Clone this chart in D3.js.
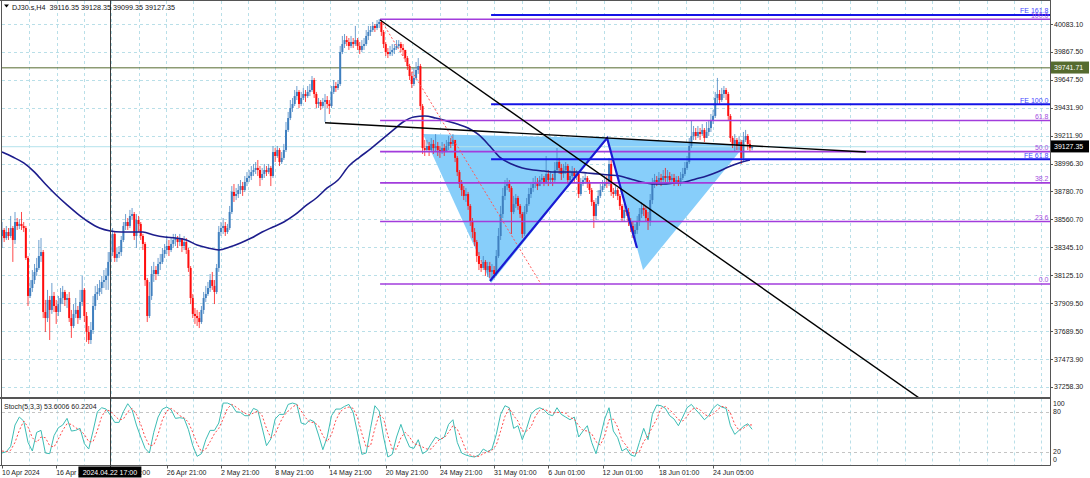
<!DOCTYPE html>
<html><head><meta charset="utf-8">
<script src="https://cdn.jsdelivr.net/npm/d3@7/dist/d3.min.js"></script>
<style>
html,body{margin:0;padding:0;background:#fff;}
svg{display:block;}
text{font-family:"Liberation Sans",Arial,sans-serif;}
</style></head>
<body>
<svg id="chart" width="1090" height="478"></svg>
<script>
// ---------------- DATA ----------------
const symbolTitle = "DJ30.s,H4";
const lastOHLC = [39116.35, 39128.35, 39099.35, 39127.35];
const firstOpen = 38432;
// H4 bars, oldest first (open of each bar = previous close)
const closes = [
38479,38416,38463,38432,38494,38401,38541,38510,38526,38510,
38494,38261,37965,38027,38089,38152,38183,38276,38307,37840,
37793,37934,37856,37965,37887,37840,37902,37949,37996,37934,
37949,37793,37731,37825,37856,37793,37918,38012,37809,37684,
37622,37700,37887,37980,37996,38027,38074,38089,38121,38230,
38307,38448,38261,38292,38307,38401,38510,38541,38510,38588,
38603,38432,38557,38526,38432,38370,38089,37809,37965,38136,
38167,38136,38214,38230,38292,38323,38354,38323,38370,38401,
38416,38385,38416,38354,38385,38323,38183,37949,37825,37809,
37793,37762,37856,37949,37980,38027,38089,38043,37996,38183,
38463,38494,38510,38463,38494,38619,38775,38744,38759,38790,
38821,38790,38853,38884,38899,38930,38946,38962,38946,38884,
38915,38946,38930,38962,38899,39086,39055,39102,39008,39040,
39102,39258,39351,39429,39460,39522,39554,39460,39507,39538,
39522,39554,39569,39647,39538,39460,39476,39444,39476,39491,
39460,39444,39554,39600,39585,39616,39865,39927,39958,39943,
39912,39943,39927,39958,39912,39881,39912,39927,39990,40021,
40036,40068,40052,40083,40099,40021,39927,39865,39849,39865,
39881,39896,39912,39927,39896,39881,39818,39756,39678,39616,
39663,39725,39756,39444,39117,39102,39133,39102,39149,39117,
39133,39102,39086,39117,39086,39133,39164,39149,39180,39040,
38930,38837,38790,38744,38759,38666,38541,38463,38385,38276,
38214,38183,38230,38167,38198,38152,38167,38136,38276,38432,
38603,38744,38821,38837,38806,38619,38681,38728,38666,38603,
38448,38619,38681,38759,38806,38837,38853,38821,38868,38884,
38853,38915,38868,38884,38868,38946,39008,38962,38915,38946,
38977,38868,38899,38930,38899,38915,38759,38837,38868,38884,
38853,38790,38697,38588,38681,38744,38790,38821,38853,38837,
38993,38775,38759,38790,38744,38666,38572,38635,38619,38541,
38510,38448,38479,38541,38603,38650,38635,38572,38541,38712,
38837,38868,38853,38884,38868,38899,38884,38899,38868,38884,
38853,38868,38837,38884,38915,38962,39008,39133,39211,39242,
39211,39242,39226,39258,39195,39242,39273,39335,39367,39507,
39538,39491,39538,39569,39538,39367,39195,39149,39180,39133,
39164,39040,39180,39211,39149,39116.35,39127.35];
const highs = [
38541,38494,38510,38494,38588,38510,38619,38572,38564,38619,
38541,38510,38276,38089,38167,38214,38261,38401,38416,38323,
37934,38012,37965,38066,37996,37934,37965,38027,38043,38012,
37980,37996,37856,37902,37949,37887,38012,38121,38027,37840,
37731,37762,37965,38043,38058,38089,38121,38167,38183,38307,
38401,38494,38463,38339,38354,38432,38541,38603,38572,38635,
38650,38619,38603,38588,38541,38448,38385,38105,38074,38198,
38230,38198,38261,38292,38339,38370,38432,38401,38416,38448,
38448,38432,38448,38416,38432,38416,38339,38198,37980,37871,
37856,37840,37887,37996,38043,38074,38136,38152,38089,38214,
38510,38541,38572,38541,38526,38666,38821,38837,38806,38837,
38868,38853,38899,38930,38946,38977,38993,39008,39024,38977,
38962,38993,38977,38993,38977,39133,39117,39133,39117,39086,
39149,39320,39398,39491,39507,39569,39600,39569,39554,39585,
39569,39600,39616,39678,39663,39554,39507,39491,39507,39538,
39522,39491,39600,39647,39631,39647,39912,39990,40005,39990,
39974,39990,39974,40068,39974,39943,39958,39974,40036,40068,
40068,40099,40083,40114,40122,40114,40036,39943,39896,39912,
39927,39927,39958,39958,39943,39927,39881,39834,39772,39709,
39740,39787,39818,39772,39460,39180,39180,39164,39195,39180,
39226,39164,39133,39164,39149,39180,39211,39195,39226,39180,
39055,38946,38868,38821,38806,38775,38681,38572,38494,38401,
38307,38245,38276,38245,38230,38230,38214,38198,38323,38494,
38666,38806,38868,38884,38868,38821,38744,38759,38744,38681,
38619,38666,38728,38806,38853,38884,38899,38884,38899,38915,
38899,39055,38946,38930,38915,39008,39117,39040,38993,38993,
39008,38993,38946,38977,38962,38946,38930,38884,38899,38915,
38899,38868,38806,38712,38728,38790,38837,38868,38899,38899,
39040,39024,38806,38821,38806,38759,38681,38681,38666,38650,
38572,38541,38526,38588,38650,38697,38681,38666,38619,38759,
38884,38915,38899,38930,38915,38946,38962,38946,38930,38915,
38915,38899,38899,38930,38962,39008,39055,39195,39335,39289,
39273,39289,39273,39304,39273,39320,39335,39382,39413,39554,
39663,39569,39585,39600,39585,39554,39382,39211,39226,39195,
39211,39180,39242,39258,39226,39180,39128.35];
const lows = [
38339,38385,38401,38401,38416,38230,38370,38479,38486,38479,
38463,38245,37887,37949,37996,38058,38121,38167,38230,37793,
37684,37762,37622,37825,37840,37747,37809,37840,37902,37887,
37871,37762,37638,37715,37793,37747,37778,37887,37762,37607,
37591,37591,37669,37856,37934,37965,37980,38027,38012,38012,
38183,38276,38230,38230,38261,38276,38385,38479,38479,38494,
38557,38401,38339,38463,38401,38323,38043,37762,37793,37934,
38074,38089,38121,38167,38214,38261,38292,38276,38307,38339,
38354,38339,38354,38307,38323,38292,38152,37902,37793,37747,
37731,37715,37747,37825,37918,37965,37996,38012,37902,37980,
38152,38432,38448,38432,38448,38479,38603,38697,38712,38728,
38759,38744,38775,38821,38853,38868,38899,38915,38899,38821,
38868,38884,38899,38915,38821,38884,39008,39040,38977,38993,
39024,39086,39242,39335,39398,39444,39491,39429,39444,39491,
39476,39507,39522,39554,39507,39429,39429,39413,39429,39320,
39429,39382,39429,39538,39554,39569,39600,39849,39896,39912,
39881,39896,39896,39912,39881,39849,39865,39881,39912,39958,
39990,40021,40021,40036,40052,39990,39896,39834,39818,39834,
39834,39849,39881,39896,39865,39834,39787,39725,39647,39585,
39600,39647,39694,39413,39071,39055,39086,39055,39086,39071,
39086,39055,39040,39071,39055,39086,39102,39117,39133,39008,
38899,38806,38744,38712,38697,38635,38510,38416,38354,38230,
38167,38152,38167,38121,38113,38105,38097,38105,38121,38261,
38401,38572,38712,38790,38775,38448,38603,38650,38635,38572,
38416,38432,38603,38666,38728,38775,38806,38790,38821,38837,
38821,38837,38821,38837,38821,38853,38930,38915,38868,38884,
38915,38837,38853,38884,38853,38868,38728,38744,38821,38837,
38806,38759,38666,38494,38557,38666,38728,38775,38806,38806,
38821,38744,38728,38744,38712,38635,38541,38541,38588,38510,
38463,38416,38401,38448,38510,38572,38588,38541,38479,38510,
38681,38806,38821,38837,38821,38853,38853,38853,38837,38853,
38821,38837,38821,38821,38868,38899,38946,38993,39117,39180,
39180,39195,39180,39211,39164,39195,39211,39242,39304,39351,
39460,39460,39476,39507,39491,39335,39164,39117,39086,39102,
39102,38993,39008,39164,39102,39086,39099.35];
// moving average, read every 5th bar
const maEvery = 5;
const maValues = [
39086,39047,39001,38930,38837,38751,38674,38603,38541,38494,
38471,38463,38463,38463,38440,38424,38416,38401,38362,38339,
38323,38346,38378,38416,38463,38502,38541,38596,38666,38728,
38806,38868,38977,39047,39110,39180,39250,39320,39359,39367,
39351,39328,39304,39273,39219,39133,39040,38993,38962,38946,
38938,38930,38930,38930,38923,38915,38907,38899,38876,38853,
38837,38837,38845,38853,38876,38899,38930,38969,39001,39024];
// Stochastic(5,3,3), read every 2nd bar
const stochEvery = 2;
const stochK = [
18,20,28,60,72,66,34,21,49,52, 18,17,44,56,60,70,51,52,55,32,
24,51,80,86,84,75,64,64,80,92, 83,60,42,25,18,49,72,84,87,83,
70,71,70,53,29,13,17,38,52,52, 63,93,93,90,80,79,74,74,85,82,
56,29,39,69,76,76,91,93,91,63, 61,68,65,45,23,42,74,84,84,88,
91,79,48,16,18,55,89,81,42,12, 16,42,61,42,27,25,38,17,21,32,
42,38,42,61,68,34,18,15,13,12, 15,24,20,24,46,76,89,86,55,59,
38,55,76,83,86,83,76,74,86,76, 72,68,72,42,51,59,34,17,42,69,
86,51,41,21,25,15,13,34,55,38, 76,90,89,85,74,69,59,72,86,91,
83,76,68,74,85,91,87,85,59,46, 52,58,62,53.6];
const stochD = [
21,20,22,34,52,66,57,41,34,42, 41,29,27,39,52,62,61,56,52,46,
35,35,52,73,83,81,74,68,69,80, 85,76,61,42,29,30,46,68,81,85,
80,74,71,64,49,32,20,24,35,47, 55,69,85,91,87,82,78,75,78,81,
74,55,41,46,62,74,81,87,91,81, 71,64,64,59,44,35,46,67,80,85,
87,85,71,47,27,29,55,76,70,44, 24,24,41,49,42,32,30,27,24,24,
32,39,41,49,59,54,39,22,15,13, 13,17,20,22,30,51,73,85,74,66,
51,51,57,73,82,84,81,78,79,79, 78,71,69,59,52,51,47,35,30,44,
68,69,57,37,29,20,17,20,35,44, 57,69,85,88,83,76,68,66,73,83,
86,83,76,73,76,83,88,87,78,61, 52,55,60,60.2];
const stochTitle = "Stoch(5,3,3) 53.6006 60.2204";

// axis ticks
const priceTicks = [40083.10,39867.50,39647.50,39431.90,39211.90,38996.30,38780.70,38560.70,38345.10,38125.10,37909.50,37689.50,37473.90,37258.30];
const stochTicks = [100,80,20,0];
const timeTickBars = [0,25,50,76,101,126,151,177,202,227,252,277,303,328];
const timeTickLabels = ["10 Apr 2024","16 Apr 21:00","22 Apr 21:00","26 Apr 21:00","2 May 21:00","8 May 21:00","14 May 21:00","20 May 21:00","24 May 21:00","31 May 01:00","6 Jun 01:00","12 Jun 01:00","18 Jun 01:00","24 Jun 05:00"];

// drawing objects (anchors as [bar, price])
const fibLevelNames = ["0.0","23.6","38.2","50.0","61.8","100.0"];
const fibLevelPrices = [38058,38545,38846,39089,39332,40120];
const fibStartBar = 174.4;
const feLevelNames = ["FE 61.8","FE 100.0","FE 161.8"];
const feLevelPrices = [39029,39458,40153];
const feStartBar = 225.6;
const feWave = [[225.1,38082],[279.1,39195],[292.9,38339]];
const triangleA = [[194.2,39226],[279.1,39195],[225.6,38066]];
const triangleB = [[279.1,39195],[342.7,39141],[295.7,38167]];
const trendDown = [[174.4,40114],[344.1,38105]];
const neckline = [[149,39314],[398.5,39086]];
const fibDiagonal = [[174.8,40114],[248.6,38058]];
const hLinePrice = 39741.71;
const crossBar = 50, crossLabel = "2024.04.22 17:00";

// ---------------- CHART ----------------
const W = 1090, H = 478;
const R = 1050;               // right edge of plot area
const mainBot = 397.5, stTop = 398.5, stBot = 465.5;

const x = d3.scaleLinear().domain([0, 346]).range([2, 752.1]);
const y = d3.scaleLinear().domain([37258.3, 40083.1]).range([386.7, 24]);
const ys = d3.scaleLinear().domain([0, 100]).range([465, 398.4]);

const svg = d3.select("#chart");
svg.append("rect").attr("width", W).attr("height", H).attr("fill", "#fff");
const defs = svg.append("defs");
defs.append("clipPath").attr("id", "mainClip").append("rect")
  .attr("x", 1.5).attr("y", 1).attr("width", R - 1.5).attr("height", mainBot - 1);
defs.append("clipPath").attr("id", "stClip").append("rect")
  .attr("x", 1.5).attr("y", stTop + 0.5).attr("width", R - 1.5).attr("height", stBot - stTop - 0.5);

const gridCol = "#b9dfe8";
const tickX = timeTickBars.map(b => x(b));
const halfStep = (tickX[tickX.length - 1] - tickX[0]) / (tickX.length - 1) / 2;
const gridX = [];
for (let gx = tickX[0] + halfStep; gx < R - 2; gx += halfStep) gridX.push(gx);

const grid = svg.append("g").attr("stroke", gridCol).attr("stroke-width", 1).attr("stroke-dasharray", "3,3");
grid.selectAll("line.h").data(priceTicks).join("line").attr("class", "h")
  .attr("x1", 2).attr("x2", R).attr("y1", d => Math.round(y(d)) + 0.5).attr("y2", d => Math.round(y(d)) + 0.5);
grid.selectAll("line.v").data(gridX).join("line").attr("class", "v")
  .attr("x1", d => Math.round(d) + 0.5).attr("x2", d => Math.round(d) + 0.5).attr("y1", 1).attr("y2", mainBot);
grid.selectAll("line.vs").data(gridX).join("line").attr("class", "vs")
  .attr("x1", d => Math.round(d) + 0.5).attr("x2", d => Math.round(d) + 0.5).attr("y1", stTop).attr("y2", stBot);
svg.append("g").selectAll("line").data([80, 20]).join("line")
  .attr("x1", 2).attr("x2", R).attr("y1", d => Math.round(ys(d)) + 0.5).attr("y2", d => Math.round(ys(d)) + 0.5)
  .attr("stroke", "#c4c4c4").attr("stroke-dasharray", "3,3");

const main = svg.append("g").attr("clip-path", "url(#mainClip)");
const pt = a => [x(a[0]), y(a[1])];

[triangleA, triangleB].forEach(tri => {
  main.append("path").attr("d", "M" + tri.map(pt).map(p => p.join(",")).join("L") + "Z")
    .attr("fill", "#87cefa").attr("stroke", "none");
});

main.append("line").attr("x1", 0).attr("x2", R).attr("y1", y(hLinePrice)).attr("y2", y(hLinePrice))
  .attr("stroke", "#556b2f").attr("stroke-width", 1);
main.append("line").attr("x1", 0).attr("x2", R).attr("y1", y(lastOHLC[3])).attr("y2", y(lastOHLC[3]))
  .attr("stroke", "#b4e2ec").attr("stroke-width", 1);

// candles
const bars = closes.map((c, i) => ({ i, o: i ? closes[i - 1] : firstOpen, h: highs[i], l: lows[i], c }));
bars[bars.length - 1].o = lastOHLC[0];
const colUp = "#3f7fbf", colDn = "#ff0d0d";
const cg = main.append("g");
cg.selectAll("line").data(bars).join("line")
  .attr("x1", d => x(d.i)).attr("x2", d => x(d.i))
  .attr("y1", d => y(Math.max(d.h, d.o, d.c))).attr("y2", d => y(Math.min(d.l, d.o, d.c)))
  .attr("stroke", d => d.c >= d.o ? colUp : colDn).attr("stroke-width", 1).attr("opacity", 0.75);
cg.selectAll("rect").data(bars).join("rect")
  .attr("x", d => x(d.i) - 1).attr("width", 2)
  .attr("y", d => y(Math.max(d.o, d.c)))
  .attr("height", d => Math.max(1, y(Math.min(d.o, d.c)) - y(Math.max(d.o, d.c))))
  .attr("fill", d => d.c >= d.o ? colUp : colDn);

// moving average
main.append("path").datum(maValues)
  .attr("d", d3.line().x((d, k) => x(k * maEvery)).y(d => y(d)).curve(d3.curveMonotoneX))
  .attr("fill", "none").attr("stroke", "#1d1d8c").attr("stroke-width", 1.6);

// fibonacci retracement
const fibCol = "#a23cdc";
main.selectAll("line.fib").data(fibLevelPrices).join("line").attr("class", "fib")
  .attr("x1", x(fibStartBar)).attr("x2", R).attr("y1", d => y(d)).attr("y2", d => y(d))
  .attr("stroke", fibCol).attr("stroke-width", 1.6);
main.append("line").attr("x1", pt(fibDiagonal[0])[0]).attr("y1", pt(fibDiagonal[0])[1])
  .attr("x2", pt(fibDiagonal[1])[0]).attr("y2", pt(fibDiagonal[1])[1])
  .attr("stroke", "#ff5a5a").attr("stroke-width", 1).attr("stroke-dasharray", "2,2");

// fibonacci expansion
const feCol = "#1414e6";
main.selectAll("line.fe").data(feLevelPrices).join("line").attr("class", "fe")
  .attr("x1", x(feStartBar)).attr("x2", R).attr("y1", d => y(d)).attr("y2", d => y(d))
  .attr("stroke", feCol).attr("stroke-width", 2);
main.append("path").attr("d", "M" + feWave.map(pt).map(p => p.join(",")).join("L"))
  .attr("fill", "none").attr("stroke", "#1a1ad2").attr("stroke-width", 2.2);

// trend lines
const [t1, t2] = trendDown.map(pt);
const tExt = 4;
main.append("line").attr("x1", t1[0]).attr("y1", t1[1])
  .attr("x2", t1[0] + (t2[0] - t1[0]) * tExt).attr("y2", t1[1] + (t2[1] - t1[1]) * tExt)
  .attr("stroke", "#000").attr("stroke-width", 1.4);
const [n1, n2] = neckline.map(pt);
main.append("line").attr("x1", n1[0]).attr("y1", n1[1]).attr("x2", n2[0]).attr("y2", n2[1])
  .attr("stroke", "#000").attr("stroke-width", 1.4);

// level labels
const lbl = svg.append("g").attr("font-size", 7).attr("text-anchor", "end");
lbl.selectAll("text.fib").data(fibLevelPrices).join("text").attr("class", "fib")
  .attr("x", R - 1.5).attr("y", d => y(d) - 1.6).attr("fill", "#a54ee0").text((d, i) => fibLevelNames[i]);
lbl.selectAll("text.fe").data(feLevelPrices).join("text").attr("class", "fe")
  .attr("x", R - 1.5).attr("y", d => y(d) - 1.6).attr("fill", "#4646ff").text((d, i) => feLevelNames[i]);

// ---------------- STOCHASTIC ----------------
const st = svg.append("g").attr("clip-path", "url(#stClip)");
st.append("path").datum(stochK)
  .attr("d", d3.line().x((d, k) => x(k * stochEvery)).y(d => ys(d)))
  .attr("fill", "none").attr("stroke", "#3cbcb4").attr("stroke-width", 1);
st.append("path").datum(stochD)
  .attr("d", d3.line().x((d, k) => x(k * stochEvery)).y(d => ys(d)))
  .attr("fill", "none").attr("stroke", "#ff4b4b").attr("stroke-width", 1).attr("stroke-dasharray", "2,2");

// ---------------- FRAME & AXES ----------------
const frame = svg.append("g").attr("stroke", "#555").attr("fill", "none");
frame.append("line").attr("x1", 0).attr("x2", R).attr("y1", 0.5).attr("y2", 0.5);
frame.append("line").attr("x1", 1.5).attr("x2", 1.5).attr("y1", 0).attr("y2", stBot);
frame.append("line").attr("x1", R + 0.5).attr("x2", R + 0.5).attr("y1", 0).attr("y2", stBot);
frame.append("line").attr("x1", 0).attr("x2", R + 0.5).attr("y1", 398).attr("y2", 398).attr("stroke-width", 2);
frame.append("line").attr("x1", 0).attr("x2", R + 0.5).attr("y1", stBot).attr("y2", stBot);

svg.append("line").attr("x1", Math.round(x(crossBar)) + 0.5).attr("x2", Math.round(x(crossBar)) + 0.5)
  .attr("y1", 0).attr("y2", stBot).attr("stroke", "#3a3a3a").attr("stroke-width", 1);

const ax = svg.append("g").attr("font-size", 7).attr("fill", "#222");
ax.selectAll("line").data(priceTicks).join("line")
  .attr("x1", R).attr("x2", R + 3).attr("y1", d => Math.round(y(d)) + 0.5).attr("y2", d => Math.round(y(d)) + 0.5)
  .attr("stroke", "#555");
ax.selectAll("text").data(priceTicks).join("text")
  .attr("x", R + 4).attr("y", d => y(d) + 2.5).text(d => d.toFixed(2));

function priceTag(p, bg) {
  const g = svg.append("g");
  g.append("rect").attr("x", R + 1).attr("y", y(p) - 6.3).attr("width", 38).attr("height", 12).attr("fill", bg);
  g.append("text").attr("x", R + 4).attr("y", y(p) + 2.6).attr("font-size", 7).attr("fill", "#fff").text(p.toFixed(2));
}
priceTag(hLinePrice, "#556b2f");
priceTag(lastOHLC[3], "#000");

const sax = svg.append("g").attr("font-size", 7).attr("fill", "#222");
const stochLabelY = { 100: 405.5, 80: 414, 20: 454, 0: 462 };
sax.selectAll("text").data(stochTicks).join("text")
  .attr("x", R + 3).attr("y", d => stochLabelY[d]).text(d => d);

const tx = svg.append("g").attr("font-size", 7).attr("fill", "#222");
tx.selectAll("line").data(timeTickBars).join("line")
  .attr("x1", d => Math.round(x(d)) + 0.5).attr("x2", d => Math.round(x(d)) + 0.5)
  .attr("y1", stBot).attr("y2", stBot + 3).attr("stroke", "#555");
tx.selectAll("text").data(timeTickBars).join("text")
  .attr("x", d => x(d)).attr("y", 474.5).text((d, i) => timeTickLabels[i]);
const cxp = x(crossBar);
svg.append("rect").attr("x", cxp - 32).attr("y", 466.5).attr("width", 63).attr("height", 11).attr("fill", "#000");
svg.append("text").attr("x", cxp - 0.5).attr("y", 474.6).attr("text-anchor", "middle")
  .attr("font-size", 7).attr("fill", "#fff").text(crossLabel);

svg.append("path").attr("d", "M4,4.5 L9,4.5 L6.5,7.5 Z").attr("fill", "#000");
svg.append("text").attr("x", 12).attr("y", 9.5).attr("font-size", 7.2).attr("fill", "#111")
  .attr("xml:space", "preserve")
  .text(symbolTitle + "  " + lastOHLC.map(v => v.toFixed(2)).join(" "));
svg.append("text").attr("x", 4).attr("y", 408.5).attr("font-size", 7).attr("fill", "#222").text(stochTitle);
</script>
</body></html>
